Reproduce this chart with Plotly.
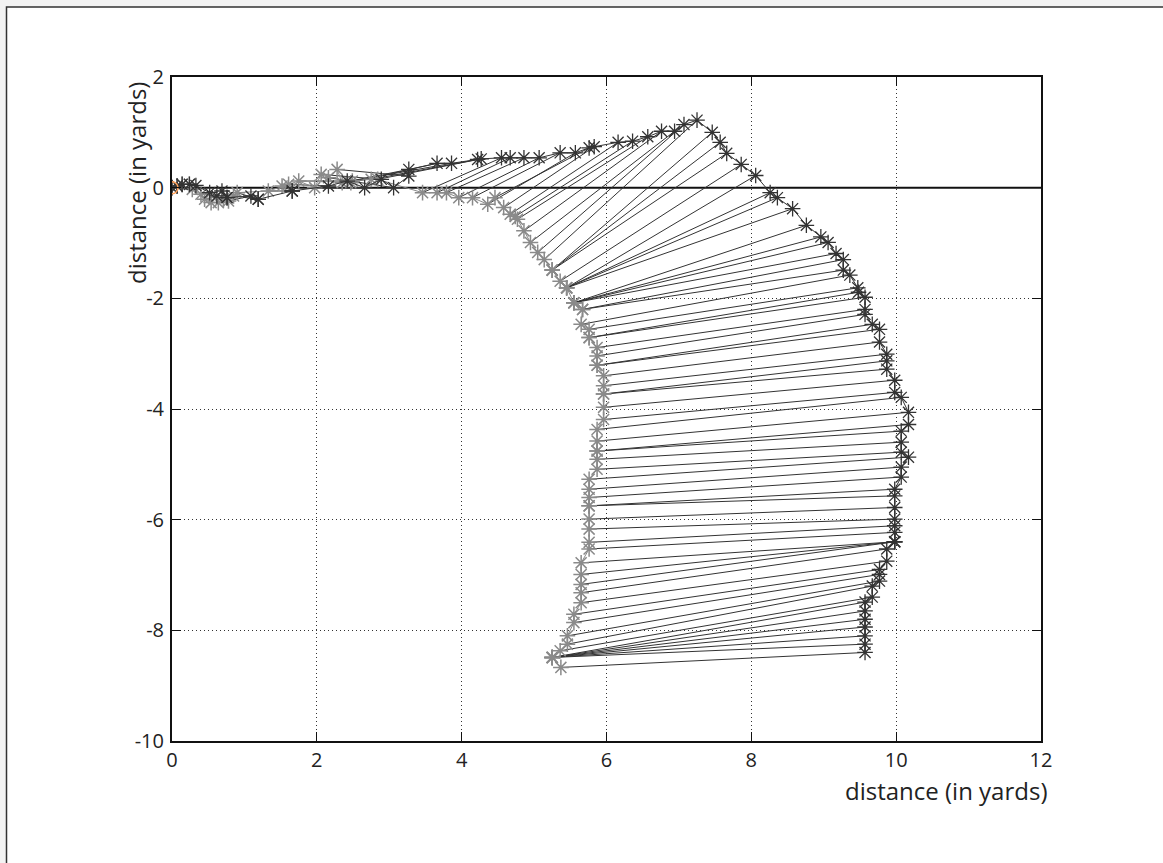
import plotly.graph_objects as go

# Light-grey trajectory (one point per time step, paired with dark trajectory)
gray_x = [0.00, 0.07, 0.14, 0.24, 0.28, 0.40, 0.45, 0.54, 0.64, 0.71, 0.78, 0.85, 0.90,
          1.33, 1.52, 1.61, 1.75, 1.97, 2.06, 2.16, 2.28, 2.35, 2.47, 2.49, 2.75, 2.84,
          3.46, 3.66, 3.79, 3.96, 4.15, 4.36, 4.46, 4.58, 4.67, 4.74, 4.77, 4.86, 4.95,
          5.05, 5.14, 5.25, 5.25, 5.25, 5.36, 5.45, 5.45, 5.45, 5.45,
          5.55, 5.55, 5.55, 5.55, 5.67, 5.67, 5.65, 5.76, 5.76, 5.76, 5.87, 5.87, 5.87, 5.87,
          5.96, 5.96, 5.96, 5.96, 5.96, 5.96, 5.87, 5.87, 5.87, 5.87, 5.87, 5.87,
          5.76, 5.76, 5.76, 5.76, 5.76, 5.76, 5.76, 5.76, 5.76,
          5.65, 5.65, 5.65, 5.65, 5.65, 5.55, 5.55, 5.46, 5.46, 5.36,
          5.25, 5.25, 5.25, 5.25, 5.25, 5.25, 5.37]
gray_y = [0.00, 0.03, 0.06, 0.06, -0.03, -0.12, -0.21, -0.27, -0.27, -0.21, -0.24, -0.15, -0.09,
          -0.06, 0.03, 0.06, 0.12, 0.00, 0.24, 0.18, 0.33, 0.09, 0.09, 0.12, 0.15, 0.15,
          -0.09, -0.09, -0.09, -0.18, -0.18, -0.30, -0.18, -0.36, -0.48, -0.52, -0.57, -0.78, -0.99,
          -1.17, -1.30, -1.49, -1.49, -1.49, -1.69, -1.81, -1.81, -1.81, -1.81,
          -2.08, -2.08, -2.08, -2.08, -2.20, -2.20, -2.47, -2.56, -2.71, -2.71, -2.89, -3.04, -3.21, -3.21,
          -3.40, -3.58, -3.73, -3.73, -3.97, -4.19, -4.37, -4.58, -4.76, -4.76, -4.91, -5.09,
          -5.27, -5.45, -5.60, -5.75, -5.75, -5.99, -6.17, -6.41, -6.53,
          -6.78, -6.99, -7.17, -7.32, -7.50, -7.71, -7.86, -8.10, -8.25, -8.37,
          -8.49, -8.49, -8.49, -8.49, -8.49, -8.49, -8.67]

# Dark trajectory
dark_x = [0.00, 0.07, 0.14, 0.24, 0.33, 0.52, 0.62, 0.69, 0.76, 0.76, 1.09, 1.19, 1.19,
          1.66, 1.66, 2.16, 2.42, 2.66, 2.89, 3.06, 3.27, 3.27, 3.66, 3.86, 4.22, 4.27,
          4.55, 4.67, 4.86, 5.07, 5.36, 5.57, 5.76, 5.83, 6.16, 6.36, 6.57, 6.76, 6.94,
          7.07, 7.25, 7.46, 7.57, 7.66, 7.86, 8.06, 8.26, 8.36, 8.57,
          8.76, 8.96, 9.06, 9.17, 9.27, 9.27, 9.36, 9.47, 9.48, 9.57, 9.57, 9.57, 9.67, 9.77,
          9.77, 9.87, 9.87, 9.87, 9.98, 9.98, 10.07, 10.17, 10.17, 10.07, 10.07, 10.07,
          10.17, 10.07, 10.07, 9.98, 9.98, 9.98, 9.98, 9.98, 9.98,
          9.98, 9.98, 9.98, 9.87, 9.87, 9.77, 9.77, 9.77, 9.67, 9.67,
          9.57, 9.57, 9.57, 9.57, 9.57, 9.57, 9.57]
dark_y = [0.00, 0.03, 0.06, 0.06, 0.04, -0.09, -0.15, -0.06, -0.18, -0.18, -0.15, -0.21, -0.21,
          -0.06, -0.06, 0.03, 0.12, 0.00, 0.15, 0.00, 0.21, 0.33, 0.44, 0.44, 0.51, 0.52,
          0.54, 0.54, 0.54, 0.54, 0.63, 0.63, 0.72, 0.74, 0.82, 0.84, 0.92, 1.02, 1.02,
          1.14, 1.22, 1.00, 0.82, 0.62, 0.42, 0.22, -0.09, -0.18, -0.38,
          -0.68, -0.89, -0.99, -1.19, -1.30, -1.49, -1.58, -1.81, -1.89, -1.98, -2.20, -2.29, -2.47, -2.56,
          -2.79, -3.01, -3.13, -3.28, -3.48, -3.70, -3.79, -4.06, -4.28, -4.40, -4.60, -4.78,
          -4.87, -5.05, -5.23, -5.45, -5.57, -5.78, -5.99, -6.11, -6.23,
          -6.40, -6.40, -6.40, -6.53, -6.75, -6.90, -6.99, -7.11, -7.20, -7.40,
          -7.49, -7.65, -7.80, -7.94, -8.10, -8.25, -8.40]

start_x = [0.0]
start_y = [0.0]

tick_vals_x = [0, 2, 4, 6, 8, 10, 12]
tick_text_x = ["0", "2", "4", "6", "8", "10", "12"]
tick_vals_y = [-10, -8, -6, -4, -2, 0, 2]
tick_text_y = ["-10", "-8", "-6", "-4", "-2", "0", "2"]
axis_title = "distance (in yards)"

FONT = "Open Sans"
INK = "#222222"

# plot area in pixels
L, R, T, B = 172, 122, 77, 122
W, H = 1163, 863
PW, PH = W - L - R, H - T - B

# connecting segments between simultaneous positions
seg_x, seg_y = [], []
for gx, gy, dx, dy in zip(gray_x, gray_y, dark_x, dark_y):
    seg_x += [gx, dx, None]
    seg_y += [gy, dy, None]

fig = go.Figure()

# zero reference line
fig.add_trace(go.Scatter(x=[0, 12], y=[0, 0], mode="lines",
                         line=dict(color="#111111", width=2), hoverinfo="skip",
                         showlegend=False))

fig.add_trace(go.Scatter(x=seg_x, y=seg_y, mode="lines",
                         line=dict(color="#333333", width=1), hoverinfo="skip",
                         showlegend=False))

fig.add_trace(go.Scatter(x=gray_x, y=gray_y, mode="lines+markers",
                         line=dict(color="#8a8a8a", width=1),
                         marker=dict(symbol="asterisk-open", size=13,
                                     line=dict(color="#8c8c8c", width=1.5)),
                         showlegend=False))

fig.add_trace(go.Scatter(x=dark_x, y=dark_y, mode="lines+markers",
                         line=dict(color="#333333", width=1),
                         marker=dict(symbol="asterisk-open", size=13,
                                     line=dict(color="#383838", width=1.3)),
                         showlegend=False))

fig.add_trace(go.Scatter(x=start_x, y=start_y, mode="markers",
                         marker=dict(symbol="circle-open", size=12,
                                     line=dict(color="#8c8c8c", width=1.5)),
                         showlegend=False))

axis_common = dict(
    showline=True, linecolor="#111111", linewidth=2, mirror="ticks",
    ticks="inside", ticklen=9, tickwidth=1, tickcolor="#111111",
    showgrid=True, gridcolor="#333333", gridwidth=1, griddash="1px,3px",
    zeroline=False, tickfont=dict(family=FONT, size=20, color=INK),
)

fig.update_xaxes(range=[0, 12], tickvals=tick_vals_x, ticktext=tick_text_x,
                 ticklabelstandoff=0, **axis_common)
fig.update_yaxes(range=[-10, 2], tickvals=tick_vals_y, ticktext=tick_text_y,
                 ticklabelstandoff=2, **axis_common)

fig.add_annotation(text=axis_title, xref="paper", yref="paper",
                   x=(1049 - L) / PW, y=(H - B - 790) / PH,
                   xanchor="right", yanchor="middle",
                   showarrow=False, font=dict(family=FONT, size=24, color=INK))
fig.add_annotation(text=axis_title, xref="paper", yref="paper",
                   x=(136 - L) / PW, y=(H - B - 183) / PH,
                   xanchor="center", yanchor="middle",
                   textangle=-90, showarrow=False,
                   font=dict(family=FONT, size=24, color=INK))

# page frame
fig.add_shape(type="rect", xref="paper", yref="paper",
              x0=(6.5 - L) / PW, x1=(1200 - L) / PW,
              y0=-(900 - (H - B)) / PH, y1=1 + (T - 7) / PH,
              line=dict(color="#333333", width=1.5), fillcolor="white", layer="below")

fig.update_layout(
    width=W, height=H, autosize=False,
    margin=dict(l=L, r=R, t=T, b=B),
    paper_bgcolor="#f3f3f3", plot_bgcolor="white",
    showlegend=False,
)

fig.write_html("out.html", config={"displayModeBar": False},
               post_script="document.body.style.margin='0';")
